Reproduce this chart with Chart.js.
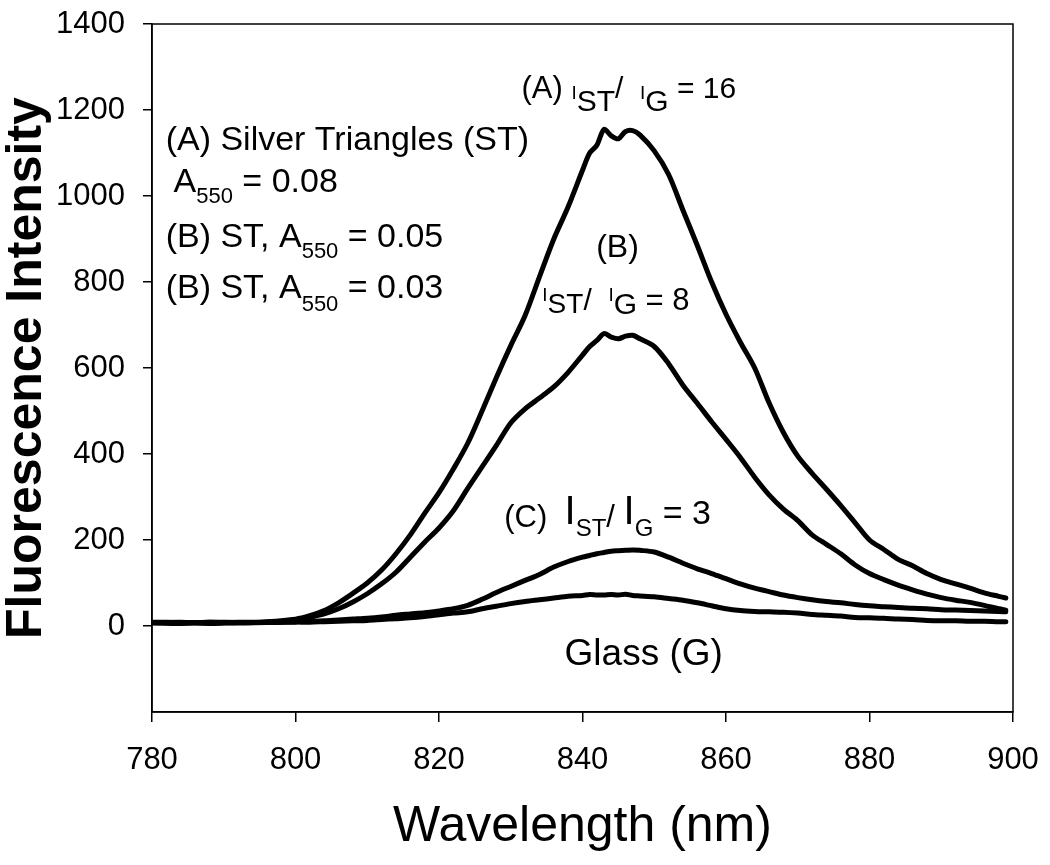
<!DOCTYPE html>
<html>
<head>
<meta charset="utf-8">
<script src="https://cdn.jsdelivr.net/npm/chart.js@4.4.1/dist/chart.umd.min.js"></script>
<style>
  html, body { margin: 0; padding: 0; background: #fff; }
  #chart { display: block; }
</style>
</head>
<body>
<canvas id="chart" width="1050" height="865"></canvas>
<script>
// wavelength grid (nm), denser around the peak
const wavelengths = [780, 784, 788, 792, 796,
  800, 802, 804, 806, 808, 810, 812, 814, 816, 818, 820, 822, 824, 826, 828, 830,
  832, 834, 836, 838, 840, 841, 842, 843, 844, 845, 846, 847, 848,
  850, 852, 854, 856, 858, 860, 862, 864, 866, 868, 870, 872, 874, 876, 878, 880,
  882, 884, 886, 888, 890, 892, 894, 896, 898, 899];

// (A) silver triangles, A550 = 0.08
const silverA = [8, 6, 9, 7, 10,
  16, 24, 36, 54, 76, 100, 130, 168, 212, 262, 310, 365, 425, 500, 578, 652,
  722, 812, 900, 975, 1060, 1100, 1118, 1155, 1140, 1133, 1150, 1152, 1142,
  1105, 1050, 967, 885, 800, 725, 660, 600, 519, 450, 395, 355, 318, 280, 240, 200,
  178, 155, 140, 122, 108, 98, 88, 77, 69, 65];

// (B) ST, A550 = 0.05
const silverB = [7, 9, 6, 8, 9,
  14, 20, 28, 40, 56, 75, 98, 125, 160, 195, 228, 268, 320, 370, 420, 472,
  505, 530, 556, 590, 630, 650, 664, 680, 672, 668, 674, 676, 668,
  650, 610, 560, 518, 475, 434, 392, 346, 305, 272, 245, 212, 190, 168, 142, 122,
  108, 95, 84, 74, 66, 60, 55, 48, 40, 37];

// (C) ST, A550 = 0.03
const silverC = [8, 7, 9, 8, 8,
  10, 11, 12, 14, 16, 18, 21, 25, 28, 31, 35, 40, 48, 62, 78, 92,
  106, 120, 137, 150, 160, 164, 168, 171, 174, 175, 176, 177, 176,
  172, 160, 146, 133, 122, 110, 98, 88, 80, 72, 66, 61, 57, 54, 50, 47,
  45, 43, 41, 40, 38, 37, 36, 35, 34, 33];

// glass (G)
const glass = [9, 8, 7, 9, 8,
  9, 9, 10, 11, 12, 13, 15, 17, 19, 22, 26, 30, 33, 40, 46, 52,
  57, 61, 65, 69, 71, 73, 72, 72, 73, 72, 74, 71, 70,
  68, 64, 60, 54, 47, 40, 36, 34, 33, 32, 30, 27, 25, 23, 20, 19,
  18, 16, 15, 13, 12, 12, 11, 11, 10, 10];

const seriesList = [silverA, silverB, silverC, glass];

// text written inside the plot, anchored in data units
const notes = [
  { x: 781.9, y: 1107, parts: [['(A) Silver Triangles (ST)', 34, 0]] },
  { x: 783.0, y: 1009, parts: [['A', 34, 0], ['550', 22, 11], [' = 0.08', 34, 0]] },
  { x: 781.9, y: 881, parts: [['(B) ST, A', 34, 0], ['550', 22, 11], [' = 0.05', 34, 0]] },
  { x: 781.9, y: 763, parts: [['(B) ST, A', 34, 0], ['550', 22, 13], [' = 0.03', 34, 0]] },
  { x: 831.5, y: 1228, parts: [['(A) ', 31, 0], ['I', 19, 1], ['ST', 30, 13], ['/  ', 30, 0], ['I', 19, 1], ['G', 30, 13], [' = 16', 30, 0]] },
  { x: 841.9, y: 858, parts: [['(B)', 32, 0]] },
  { x: 834.4, y: 735, parts: [['I', 19, -9], ['ST', 28, 3], ['/  ', 30, 0], ['I', 19, -9], ['G', 30, 4], [' = 8', 31, 0]] },
  { x: 829.1, y: 230, parts: [['(C)  ', 31, 0], ['I', 40, -3], ['ST', 24, 9], ['/ ', 31, 0], ['I', 40, -3], ['G', 24, 9], [' = 3', 34, -3]] },
  { x: 837.5, y: -91, parts: [['Glass (G)', 37, 0]] }
];

const FONT = '"Liberation Sans", Arial, sans-serif';
Chart.defaults.font.family = FONT;
Chart.defaults.color = '#000';

// keep the plot box where the reference has it
function noOverflow(s) {
  s.paddingTop = 0;
  s.paddingBottom = 0;
  s.paddingLeft = 0;
  s.paddingRight = 0;
}

const frameAndNotes = {
  id: 'frameAndNotes',
  afterDatasetsDraw(chart) {
    const { ctx, chartArea, scales } = chart;
    ctx.save();
    ctx.strokeStyle = '#000';
    ctx.lineWidth = 1.5;
    ctx.strokeRect(chartArea.left, chartArea.top,
      chartArea.right - chartArea.left, chartArea.bottom - chartArea.top);
    ctx.fillStyle = '#000';
    ctx.textBaseline = 'alphabetic';
    ctx.textAlign = 'left';
    notes.forEach(n => {
      let px = scales.x.getPixelForValue(n.x);
      const py = scales.y.getPixelForValue(n.y);
      n.parts.forEach(([txt, size, dy]) => {
        ctx.font = size + 'px ' + FONT;
        ctx.fillText(txt, px, py + dy);
        px += ctx.measureText(txt).width;
      });
    });
    ctx.restore();
  }
};

new Chart(document.getElementById('chart'), {
  type: 'line',
  data: {
    datasets: seriesList.map(vals => ({
      data: wavelengths.map((w, i) => ({ x: w, y: vals[i] })),
      borderColor: '#000',
      borderWidth: 5,
      pointRadius: 0,
      tension: 0.3,
      borderJoinStyle: 'round',
      borderCapStyle: 'round',
      fill: false
    }))
  },
  options: {
    responsive: false,
    animation: false,
    devicePixelRatio: 1,
    layout: { padding: { top: 24, right: 37, left: 0, bottom: 0 } },
    plugins: { legend: { display: false }, tooltip: { enabled: false } },
    scales: {
      x: {
        type: 'linear',
        min: 780,
        max: 900,
        afterFit: s => { s.height = 153; noOverflow(s); },
        ticks: { stepSize: 20, padding: 20, font: { size: 31 }, color: '#000' },
        grid: { drawOnChartArea: false, tickLength: 10, color: '#000', lineWidth: 1.5 },
        border: { display: true, color: '#000', width: 1.5 },
        title: {
          display: true,
          text: 'Wavelength (nm)',
          font: { size: 50 },
          color: '#000',
          padding: { top: 0, bottom: 8 }
        }
      },
      y: {
        min: -200,
        max: 1400,
        afterFit: s => { s.width = 152; noOverflow(s); },
        ticks: {
          stepSize: 200,
          padding: 18,
          font: { size: 31 },
          color: '#000',
          callback: v => (v < 0 ? '' : v)
        },
        grid: {
          drawOnChartArea: false,
          tickLength: 9,
          lineWidth: 1.5,
          color: c => (c.tick && c.tick.value < 0 ? 'rgba(0,0,0,0)' : '#000')
        },
        border: { display: true, color: '#000', width: 1.5 },
        title: {
          display: true,
          text: 'Fluorescence Intensity',
          font: { size: 50, weight: 'bold', lineHeight: 1.1 },
          color: '#000',
          padding: { top: 0, bottom: 0 }
        }
      }
    }
  },
  plugins: [frameAndNotes]
});
</script>
</body>
</html>
